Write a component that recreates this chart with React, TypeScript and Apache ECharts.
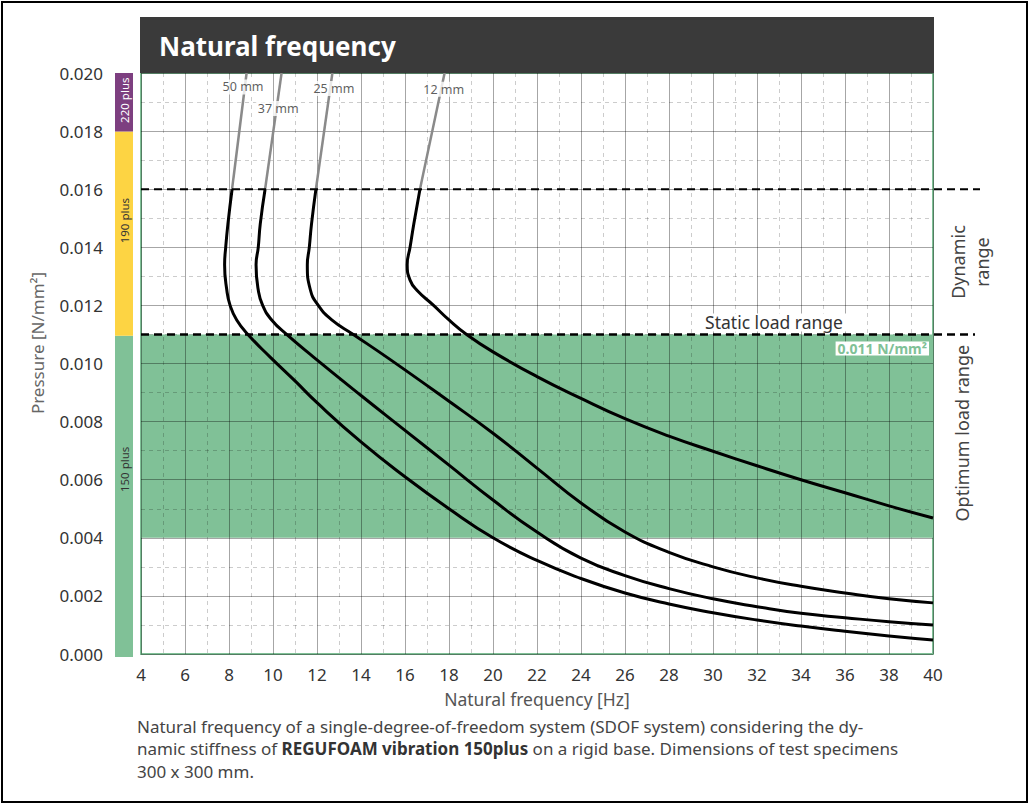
import React, { useEffect, useRef } from "react";
import * as echarts from "echarts";

// ---------- data ----------
const X_MIN = 4;
const X_MAX = 40;
const X_INTERVAL = 2;
const Y_MIN = 0;
const Y_MAX = 0.02;
const Y_INTERVAL = 0.002;

// measured curves [frequency Hz, pressure N/mm²] (black part, p <= 0.016)
const curve50: number[][] = [
  [8.14, 0.016], [7.95, 0.0148], [7.85, 0.014], [7.8, 0.0134], [7.9, 0.01253], [8.05, 0.012],
  [8.35, 0.0115], [8.86, 0.011], [9.86, 0.01023], [11, 0.0094], [12, 0.00865], [14, 0.0073],
  [16, 0.0061], [18, 0.005], [20, 0.004], [22, 0.00322], [24, 0.0026], [26, 0.0021],
  [28, 0.00172], [30, 0.00142], [32, 0.00117], [34, 0.00096], [36, 0.00078], [38, 0.00062], [40, 0.00048],
];
const curve37: number[][] = [
  [9.64, 0.016], [9.42, 0.0148], [9.33, 0.014], [9.23, 0.0134], [9.33, 0.01253], [9.53, 0.012],
  [9.94, 0.0115], [10.62, 0.011], [11.83, 0.01023], [14, 0.0089], [16, 0.0077], [18, 0.0065],
  [20, 0.0053], [22, 0.0042], [24, 0.0033], [26, 0.0027], [28, 0.00225], [30, 0.0019],
  [32, 0.00163], [34, 0.0014], [36, 0.00125], [38, 0.00111], [40, 0.001],
];
const curve25: number[][] = [
  [11.95, 0.016], [11.75, 0.0148], [11.65, 0.014], [11.56, 0.0134], [11.7, 0.01253], [12.06, 0.012],
  [12.67, 0.0115], [13.65, 0.011], [15.3, 0.01015], [18, 0.0087], [20, 0.0076], [22, 0.0064],
  [24, 0.0052], [26, 0.0042], [28, 0.0035], [30, 0.003], [32, 0.00262], [34, 0.00233],
  [36, 0.0021], [38, 0.0019], [40, 0.00176],
];
const curve12: number[][] = [
  [16.68, 0.016], [16.4, 0.0148], [16.23, 0.014], [16.1, 0.0134], [16.23, 0.01287], [16.53, 0.01253],
  [17.3, 0.012], [18.0, 0.0115], [18.8, 0.011], [20, 0.0104], [22, 0.00955], [24, 0.0088],
  [26, 0.0081], [28, 0.0075], [30, 0.00698], [32, 0.00648], [34, 0.006], [36, 0.00555],
  [38, 0.0051], [40, 0.00468],
];
// grey continuation above the dynamic range (0.016 -> 0.020)
const curve50Top: number[][] = [[8.14, 0.016], [8.8, 0.02]];
const curve37Top: number[][] = [[9.64, 0.016], [10.39, 0.02]];
const curve25Top: number[][] = [[11.95, 0.016], [12.7, 0.02]];
const curve12Top: number[][] = [[16.68, 0.016], [17.8, 0.02]];

const curveNames = ["50 mm", "37 mm", "25 mm", "12 mm"];
const curveLabelPos: number[][] = [[8.64, 0.01952], [10.24, 0.01878], [12.77, 0.01947], [17.76, 0.01944]];

const optimumBand = [0.004, 0.011];
const dynamicLimit = 0.016;
const staticLimit = 0.011;

const gradeNames = ["150 plus", "190 plus", "220 plus"];
const gradeHeights = [0.011, 0.007, 0.002];
const gradeColors = ["#80c197", "#fdd443", "#7d3f80"];
const gradeTextColors = ["#333333", "#333333", "#ffffff"];
const gradeLabelShift = [27, 13, 2];

const GREEN = "#80c197";
const FONT = "'Noto Sans', 'Open Sans', sans-serif";

export default function App() {
  const ref = useRef<HTMLDivElement>(null);

  useEffect(() => {
    if (!ref.current) return;
    const chart = echarts.init(ref.current, undefined, { renderer: "svg" });

    const curves = [curve50, curve37, curve25, curve12];
    const tops = [curve50Top, curve37Top, curve25Top, curve12Top];

    const series: any[] = [
      {
        name: "band",
        type: "line",
        data: [],
        z: 1,
        silent: true,
        markArea: {
          silent: true,
          itemStyle: { color: GREEN, opacity: 1 },
          data: [[{ yAxis: optimumBand[0] }, { yAxis: optimumBand[1] }]],
        },
      },
    ];
    curves.forEach((c, i) => {
      series.push({
        name: curveNames[i],
        type: "line",
        data: c,
        smooth: 0.5,
        symbol: "none",
        z: 5,
        lineStyle: { color: "#000", width: 3 },
      });
      series.push({
        name: curveNames[i] + " top",
        type: "line",
        data: tops[i],
        symbol: "none",
        z: 4,
        lineStyle: { color: "#8a8a8a", width: 2.5 },
      });
    });
    series.push({
      name: "labels",
      type: "scatter",
      z: 8,
      symbolSize: 0,
      data: curveLabelPos.map((p, i) => ({ name: curveNames[i], value: p })),
      label: {
        show: true,
        position: "inside",
        formatter: "{b}",
        backgroundColor: "#fff",
        padding: [1, 2],
        fontSize: 12.5,
        fontFamily: FONT,
        color: "#333",
      },
    });
    gradeNames.forEach((g, i) => {
      series.push({
        name: g,
        type: "bar",
        xAxisIndex: 1,
        yAxisIndex: 1,
        stack: "grades",
        barWidth: "100%",
        data: [gradeHeights[i]],
        itemStyle: { color: gradeColors[i] },
        label: {
          show: true,
          position: "inside",
          rotate: 90,
          offset: [gradeLabelShift[i], 0],
          formatter: g,
          fontSize: 11.5,
          fontFamily: FONT,
          color: gradeTextColors[i],
        },
      });
    });

    chart.setOption({
      animation: false,
      grid: [
        {
          left: 141, right: 97, top: 73, bottom: 152,
          show: true, borderColor: GREEN, borderWidth: 2, backgroundColor: "#fff",
        },
        { left: 115, width: 18, top: 73, bottom: 149 },
      ],
      xAxis: [
        {
          type: "value", min: X_MIN, max: X_MAX, interval: X_INTERVAL, z: 2,
          name: "Natural frequency [Hz]", nameLocation: "middle", nameGap: 36,
          nameTextStyle: { fontSize: 17.5, color: "#555", fontFamily: FONT },
          axisLine: { show: false }, axisTick: { show: false },
          axisLabel: { fontSize: 17, color: "#333", margin: 12, fontFamily: FONT },
          splitLine: { show: true, lineStyle: { color: "rgba(0,0,0,0.35)", width: 1 } },
          minorTick: { show: false, splitNumber: 2 },
          minorSplitLine: { show: true, lineStyle: { color: "rgba(0,0,0,0.2)", type: [4, 4], width: 1 } },
        },
        { type: "category", gridIndex: 1, data: ["grade"], show: false },
      ],
      yAxis: [
        {
          type: "value", min: Y_MIN, max: Y_MAX, interval: Y_INTERVAL, z: 2,
          axisLine: { show: false }, axisTick: { show: false },
          axisLabel: {
            fontSize: 17, color: "#333", margin: 38, fontFamily: FONT,
            formatter: (v: number) => v.toFixed(3),
          },
          splitLine: { show: true, lineStyle: { color: "rgba(0,0,0,0.35)", width: 1 } },
          minorTick: { show: false, splitNumber: 2 },
          minorSplitLine: { show: true, lineStyle: { color: "rgba(0,0,0,0.2)", type: [4, 4], width: 1 } },
        },
        { type: "value", gridIndex: 1, min: Y_MIN, max: Y_MAX, show: false },
      ],
      series,
    });

    const px = (x: number, y: number) => chart.convertToPixel({ gridIndex: 0 }, [x, y]) as number[];
    const yDyn = px(X_MIN, dynamicLimit)[1];
    const yStat = px(X_MIN, staticLimit)[1];
    const left = px(X_MIN, 0)[0];
    const right = px(X_MAX, 0)[0];
    const yTop = px(X_MIN, Y_MAX)[1];
    const yBandLow = px(X_MIN, optimumBand[0])[1];

    chart.setOption({
      graphic: [
        { type: "rect", z: 0, shape: { x: 2, y: 2, width: 1025, height: 800 }, style: { fill: "none", stroke: "#000", lineWidth: 2 } },
        { type: "rect", z: 20, shape: { x: left - 1, y: 17, width: right - left + 2, height: yTop - 17 }, style: { fill: "#3a3a3a" } },
        { type: "text", z: 21, x: 159, y: (17 + yTop) / 2 + 1, style: { text: "Natural frequency", fill: "#fff", font: `bold 26px ${FONT}`, verticalAlign: "middle" } },
        { type: "line", z: 10, shape: { x1: left, y1: yDyn, x2: 980, y2: yDyn }, style: { stroke: "#000", lineWidth: 2, lineDash: [8, 5] } },
        { type: "line", z: 10, shape: { x1: left, y1: yStat, x2: 975, y2: yStat }, style: { stroke: "#000", lineWidth: 2.5, lineDash: [8, 5] } },
        {
          type: "text", z: 11, x: 847, y: yStat - 12,
          style: { text: "Static load range", fill: "#333", font: `17.5px ${FONT}`, align: "right", verticalAlign: "middle", backgroundColor: "#fff", padding: [0, 4] },
        },
        {
          type: "text", z: 11, x: right - 4, y: yStat + 14,
          style: { text: "0.011 N/mm²", fill: GREEN, font: `bold 14px ${FONT}`, align: "right", verticalAlign: "middle", backgroundColor: "#fff", padding: [0, 2] },
        },
        {
          type: "text", z: 11, x: 970, y: 262, rotation: Math.PI / 2,
          style: { text: "Dynamic\nrange", fill: "#444", font: `18px ${FONT}`, align: "center", verticalAlign: "middle", lineHeight: 24 },
        },
        {
          type: "text", z: 11, x: 962, y: (yStat + yBandLow) / 2 - 3, rotation: Math.PI / 2,
          style: { text: "Optimum load range", fill: "#444", font: `18px ${FONT}`, align: "center", verticalAlign: "middle" },
        },
        {
          type: "text", z: 11, x: 37, y: 343, rotation: Math.PI / 2,
          style: { text: "Pressure [N/mm²]", fill: "#666", font: `17px ${FONT}`, align: "center", verticalAlign: "middle" },
        },
        {
          type: "text", z: 11, x: 137, y: 715,
          style: {
            text: "Natural frequency of a single-degree-of-freedom system (SDOF system) considering the dy-\nnamic stiffness of {b|REGUFOAM vibration 150plus} on a rigid base. Dimensions of test specimens\n300 x 300 mm.",
            fill: "#444", font: `17px ${FONT}`, lineHeight: 22.5, verticalAlign: "top",
            rich: { b: { fontWeight: "bold", fontSize: 17, fontFamily: FONT, fill: "#333", lineHeight: 22.5 } },
          },
        },
      ],
    });

    return () => chart.dispose();
  }, []);

  return <div ref={ref} style={{ position: "absolute", left: 0, top: 0, width: 1030, height: 806, background: "#fff" }} />;
}
